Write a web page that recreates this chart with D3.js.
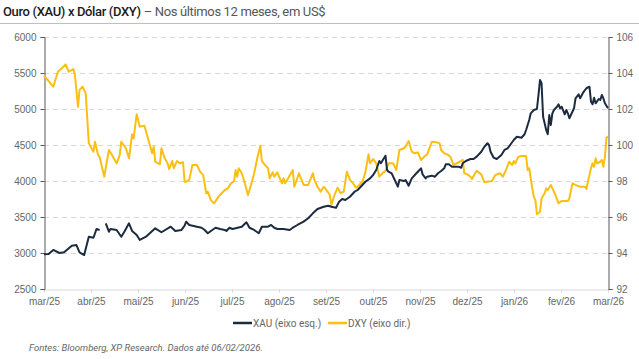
<!DOCTYPE html>
<html>
<head>
<meta charset="utf-8">
<script src="https://cdn.jsdelivr.net/npm/d3@7"></script>
<style>
  body { margin: 0; background: #fff; }
  svg { display: block; font-family: Roboto, "Noto Sans", sans-serif; }
</style>
</head>
<body>
<script>
// meses do eixo x (igualmente espaçados)
const meses = ["mar/25", "abr/25", "mai/25", "jun/25", "jul/25", "ago/25", "set/25",
  "out/25", "nov/25", "dez/25", "jan/26", "fev/26", "mar/26"];

// XAU: dias desde o início do período e cotação (null = sem dado)
const xauDias = [0, 3, 6, 10, 13, 18, 21, 23, 26, 29, 32, 34, 36, 37, 40, 42, 43, 47, 50, 52, 55, 57, 60, 62, 66,
  72, 76, 82, 85, 89, 91, 92, 94, 99, 102, 104, 106, 108, 111, 114, 117, 118, 120, 122, 124, 128, 131, 133,
  136, 139, 141, 145, 147, 149, 151, 155, 159, 161, 164, 168, 171, 174, 177, 181, 184, 186, 189, 191, 193,
  195, 198, 201, 203, 206, 208, 211, 213, 215, 217, 218, 220, 221, 222, 223, 225, 227, 229, 230, 233, 234,
  236, 238, 241, 243, 244, 245, 247, 248, 251, 253, 255, 257, 259, 260, 262, 264, 268, 270, 271, 273, 276,
  278, 280, 283, 285, 287, 288, 289, 291, 293, 296, 298, 300, 302, 304, 306, 309, 311, 312, 314, 315, 317,
  319, 320, 321, 322, 323, 324, 325, 326, 327, 328, 329, 330, 332, 333, 334, 335, 337, 338, 339, 340, 341,
  343, 344, 346, 347, 349, 351, 353, 354, 355, 356, 357, 359, 360, 361, 362, 363, 365];
const xauValores = [2982, 2985, 3042, 3000, 3010, 3100, 3110, 3010, 2972, 3226, 3212, 3333, 3320, null, 3412, 3296,
  3333, 3320, 3226, 3296, 3412, 3306, 3250, 3181, 3226,
  3343, 3288, 3365, 3306, 3320, 3379, 3435, 3389, 3365, 3351, 3320, 3274, 3306, 3351, 3333, 3320, 3306,
  3351, 3333, 3343, 3365, 3426, 3351,
  3320, 3274, 3365, 3365, 3389, 3351, 3333, 3333, 3320, 3351, 3389, 3435, 3482, 3551, 3611, 3643, 3657,
  3643, 3629, 3713, 3750,
  3736, 3782, 3851, 3875, 3944, 3990, 4037, 4083, 4153, 4278, 4246, 4315, 4351, 4153, 4129, 4107, 4014,
  3921, 4014, 4000, 4014,
  3935, 4037, 4107, 4153, 4176, 4093, 4037, 4060, 4074, 4060, 4107, 4139, 4176, 4232, 4232, 4199, 4199,
  4185, 4246, 4278, 4306,
  4306, 4338, 4407, 4476, 4524, 4500, 4407, 4324, 4306, 4361, 4431, 4454, 4510, 4569, 4615, 4601, 4649,
  4708, 4847, 4940, 4986,
  5000, 5194, 5403, 5357, 4893, 4801, 4708, 4649, 4917, 4778, 4940, 4986, 5032, 5065, 5010, 5032, 4926,
  4986, 4940, 4871, 4917,
  5010, 5149, 5204, 5149, 5232, 5288, 5310, 5101, 5065, 5157, 5079, 5139, 5125, 5194, 5149, 5079, 5010];

// DXY: dias desde o início do período e índice
const dxyDias = [0, 6, 9, 11, 14, 16, 19, 20, 22, 23, 25, 27, 29, 32, 33, 35, 36, 39, 42, 44, 47, 49, 50, 53, 55,
  57, 58, 60, 62, 65, 67, 70, 71, 72, 75, 76, 78, 80, 81, 83, 84, 86, 88, 90, 91, 92, 94, 96, 99, 101, 103,
  105, 106, 108, 110, 113, 115, 117, 119, 121, 123, 124, 125, 126, 128, 130, 132, 134, 136, 138, 140, 141,
  143, 145, 146, 148, 149, 151, 154, 155, 156, 158, 161, 162, 165, 168, 171, 174, 175, 177, 179, 181, 182,
  185, 186, 188, 190, 192, 194, 196, 198, 200, 202, 204, 206, 208, 210, 211, 213, 215, 217, 219, 221, 223,
  226, 228, 230, 233, 234, 236, 238, 240, 242, 244, 246, 248, 249, 251, 254, 256, 257, 259, 261, 263, 265,
  267, 269, 271, 272, 274, 276, 277, 279, 280, 283, 285, 287, 290, 292, 295, 297, 299, 301, 303, 304, 305,
  307, 309, 312, 313, 314, 316, 317, 318, 319, 321, 322, 324, 325, 326, 328, 329, 331, 333, 335, 339, 340,
  342, 344, 345, 347, 350, 351, 352, 354, 355, 356, 357, 358, 360, 361, 362, 363, 364, 365];
const dxyValores = [103.85, 103.24, 104.07, 104.22, 104.48, 104.07, 104.22, 103.89, 102.13, 103.06, 103.24, 102.87,
  100.09, 99.63, 100.18, 99.44, 99.35, 98.24, 99.72, 99.44, 98.98, 99.44, 100.18, 99.82, 99.26,
  100.59, 100.37, 101.71, 101.02, 101.07, 100.46, 99.54, 99.91, 99.07, 98.93, 99.82, 99.29, 98.98, 98.67,
  99.11, 98.71, 99.11, 98.98, 99.04, 97.96, 97.96, 98.06, 98.89, 98.89, 98.52, 98.33,
  97.32, 97.41, 96.94, 96.76, 97.13, 97.32, 97.5, 97.59, 97.87, 98.0, 98.61, 98.24, 98.71, 98.43, 97.87,
  97.22, 97.78, 98.43, 99.26, 99.96, 99.11,
  98.89, 98.71, 98.15, 98.48, 98.24, 98.48, 97.87, 98.15, 97.87, 98.15, 98.61, 97.68, 98.43, 97.78, 97.78,
  98.43, 98.06, 97.68, 97.41, 97.68, 97.59,
  97.22, 96.67, 97.22, 97.63, 97.32, 97.41, 98.52, 98.06, 97.87, 97.63, 97.78, 97.96, 98.48, 99.48, 98.98,
  99.22, 98.98, 98.24, 98.43, 98.56, 98.98,
  98.98, 98.61, 99.72, 99.82, 99.91, 100.22, 99.63, 99.54, 99.59, 99.17, 99.35, 99.48, 99.72, 100.18,
  100.15, 100.09, 99.72, 99.54, 99.48, 99.35, 98.89,
  98.98, 99.07, 99.17, 98.43, 98.37, 98.24, 98.11, 98.43, 98.56, 98.37, 97.93, 97.96, 98.0, 98.33, 98.43,
  98.24, 98.61, 99.07, 98.89, 99.11, 98.98,
  99.35, 99.39, 99.39, 98.61, 98.71, 97.59, 97.13, 96.94, 96.15, 96.29, 97.04, 97.32, 97.59, 97.5, 97.78,
  97.59, 97.22, 96.76, 96.89, 96.89, 97.04,
  97.87, 97.78, 97.74, 97.68, 97.68, 97.56, 97.96, 98.71, 98.98, 98.79, 99.26, 98.98, 99.07, 99.17, 98.79,
  99.35, 100.41, 100.46];

const ticksEsq = [2500, 3000, 3500, 4000, 4500, 5000, 5500, 6000];
const ticksDir = [92, 94, 96, 98, 100, 102, 104, 106];

const W = 639, H = 359;
const margem = { top: 37, right: 31, bottom: 70, left: 44 };
const COR_XAU = "#1d2b40";
const COR_DXY = "#fbbf14";
const COR_TEXTO = "#666";

const svg = d3.select("body").append("svg")
  .attr("width", W)
  .attr("height", H);

// Título
const titulo = svg.append("text")
  .attr("x", 3)
  .attr("y", 16)
  .attr("font-size", 13)
  .attr("letter-spacing", -0.35);
titulo.append("tspan").attr("fill", "#1a1a1a").attr("font-weight", 500).text("Ouro (XAU) x Dólar (DXY)");
titulo.append("tspan").attr("fill", "#555").text(" – Nos últimos 12 meses, em US$");

svg.append("line")
  .attr("x1", 0).attr("x2", W)
  .attr("y1", 23.5).attr("y2", 23.5)
  .attr("stroke", "#bfbfbf")
  .attr("stroke-width", 1);

const x = d3.scaleLinear().domain([0, 365]).range([margem.left, W - margem.right]);
const yEsq = d3.scaleLinear().domain([2500, 6000]).range([H - margem.bottom, margem.top]);
const yDir = d3.scaleLinear().domain([92, 106]).range([H - margem.bottom, margem.top]);

// Grade tracejada
svg.append("g")
  .selectAll("line")
  .data(ticksEsq.slice(1))
  .join("line")
  .attr("x1", margem.left)
  .attr("x2", W - margem.right)
  .attr("y1", (d) => Math.round(yEsq(d)) + 0.5)
  .attr("y2", (d) => Math.round(yEsq(d)) + 0.5)
  .attr("stroke", "#d9d9d9")
  .attr("stroke-dasharray", "5,4");

// Eixo x
const posMeses = meses.map((m, i) => (i * 365) / 12);
const eixoX = svg.append("g")
  .attr("transform", `translate(0,${H - margem.bottom + 0.5})`)
  .call(d3.axisBottom(x).tickValues(posMeses).tickFormat((d, i) => meses[i]).tickSize(3).tickSizeOuter(0));
eixoX.select(".domain").attr("stroke", "#d9d9d9");
eixoX.selectAll(".tick line").attr("stroke", "#d9d9d9");
eixoX.selectAll("text").attr("fill", COR_TEXTO).attr("font-size", 10).attr("dy", "0.95em").attr("font-family", null);

// Eixo esquerdo
const eixoEsq = svg.append("g")
  .attr("transform", `translate(${margem.left + 0.5},0)`)
  .call(d3.axisLeft(yEsq).tickValues(ticksEsq).tickFormat(d3.format("d")).tickSize(4).tickPadding(4));
eixoEsq.select(".domain").attr("stroke", "#595959");
eixoEsq.selectAll(".tick line").attr("stroke", "#595959");
eixoEsq.selectAll("text").attr("fill", COR_TEXTO).attr("font-size", 10).attr("font-family", null);

// Eixo direito
const eixoDir = svg.append("g")
  .attr("transform", `translate(${W - margem.right + 0.5},0)`)
  .call(d3.axisRight(yDir).tickValues(ticksDir).tickSize(4).tickPadding(4));
eixoDir.select(".domain").attr("stroke", "#595959");
eixoDir.selectAll(".tick line").attr("stroke", "#595959");
eixoDir.selectAll("text").attr("fill", COR_TEXTO).attr("font-size", 10).attr("font-family", null);

// Linhas
const linhaXau = d3.line()
  .defined((d, i) => xauValores[i] !== null)
  .x((d) => x(d))
  .y((d, i) => yEsq(xauValores[i]));

const linhaDxy = d3.line()
  .x((d) => x(d))
  .y((d, i) => yDir(dxyValores[i]));

svg.append("path")
  .attr("d", linhaDxy(dxyDias))
  .attr("fill", "none")
  .attr("stroke", COR_DXY)
  .attr("stroke-width", 2)
  .attr("stroke-linejoin", "round");

svg.append("path")
  .attr("d", linhaXau(xauDias))
  .attr("fill", "none")
  .attr("stroke", COR_XAU)
  .attr("stroke-width", 2)
  .attr("stroke-linejoin", "round");

// Legenda
const legenda = [
  { nome: "XAU (eixo esq.)", cor: COR_XAU, x: 233 },
  { nome: "DXY (eixo dir.)", cor: COR_DXY, x: 328 },
];
const itens = svg.append("g")
  .selectAll("g")
  .data(legenda)
  .join("g")
  .attr("transform", (d) => `translate(${d.x},323)`);
itens.append("line")
  .attr("x1", 0).attr("x2", 19)
  .attr("stroke", (d) => d.cor)
  .attr("stroke-width", 2.5);
itens.append("text")
  .attr("x", 20)
  .attr("dy", "0.35em")
  .attr("font-size", 10)
  .attr("fill", COR_TEXTO)
  .text((d) => d.nome);

// Fonte
svg.append("text")
  .attr("x", 29)
  .attr("y", 351)
  .attr("font-size", 9.5)
  .attr("font-style", "italic")
  .attr("fill", COR_TEXTO)
  .text("Fontes: Bloomberg, XP Research. Dados até 06/02/2026.");
</script>
</body>
</html>
